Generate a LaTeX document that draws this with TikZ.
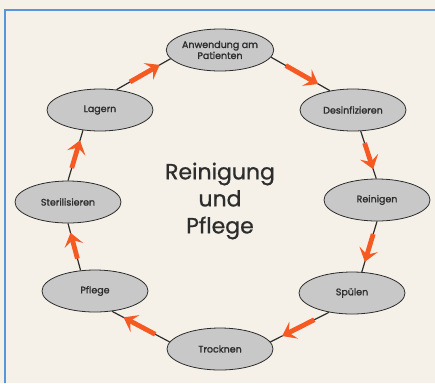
\documentclass[tikz,border=0pt]{standalone}
\usepackage{fontspec}
\setmainfont{Poppins}
\newfontfamily\labelfont[FakeBold=1.4]{Poppins}
\newfontfamily\titlefont[FakeBold=0.8]{Poppins}
\usetikzlibrary{arrows.meta,shapes.geometric}
\definecolor{paper}{RGB}{245,241,232}
\definecolor{frameblue}{RGB}{85,150,220}
\definecolor{cellgray}{RGB}{200,200,200}
\definecolor{inkgray}{RGB}{45,45,45}
\definecolor{arrorange}{RGB}{245,90,35}

\begin{document}
\begin{tikzpicture}[x=1pt,y=-1pt]
\tikzset{stage/.style={ellipse,draw=inkgray,line width=.8pt,fill=cellgray,
  minimum width=106pt,minimum height=42pt,inner sep=0pt,
  font=\labelfont\fontsize{9.5}{11}\selectfont,text=inkgray,align=center}}
\tikzset{link/.style={draw=inkgray,line width=1.2pt}}
\tikzset{flow/.style={draw=arrorange,line width=4.8pt,
  -{Stealth[length=13pt,width=19pt,inset=5.5pt]}}}
\fill[paper] (0,0) rectangle (435,383);
\useasboundingbox (0,0) rectangle (435,383);
\draw[frameblue,line width=1.3pt] (5,383) |- (435,10);

\node[stage] (anw) at (220,50) {Anwendung am\\Patienten};
\node[stage] (des) at (353,110) {Desinfizieren};
\node[stage] (rei) at (377,200) {Reinigen};
\node[stage] (spu) at (352,293) {Spülen};
\node[stage] (tro) at (220,349) {Trocknen};
\node[stage] (pfl) at (95,291) {Pflege};
\node[stage] (ste) at (68,202) {Sterilisieren};
\node[stage] (lag) at (100,110) {Lagern};

\node[font=\titlefont\fontsize{22}{27}\selectfont,text=inkgray,align=center] (title)
  at (220,201) {Reinigung\\und\\Pflege};

\foreach \a/\aa/\b/\bb in {anw/352/des/140, des/290/rei/92, rei/270/spu/65,
  spu/220/tro/8, tro/172/pfl/310, pfl/125/ste/270, ste/90/lag/230, lag/51/anw/190}
{
\draw[link] (\a.\aa) -- (\b.\bb) coordinate[pos=.25] (s) coordinate[pos=.8] (e);
\draw[flow] (s) -- (e);
}
\end{tikzpicture}
\end{document}
